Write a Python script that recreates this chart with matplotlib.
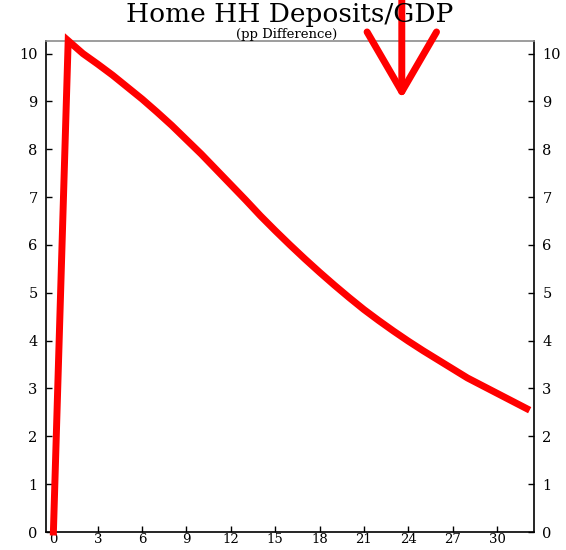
import matplotlib
matplotlib.use("Agg")
import matplotlib.pyplot as plt

# Quarters after the shock and the response of home household deposits (% of GDP)
quarters = list(range(33))
deposits_gdp = [0.0, 10.27, 10.0, 9.78, 9.55, 9.3, 9.05, 8.78, 8.5, 8.2,
                7.9, 7.58, 7.26, 6.94, 6.61, 6.3, 6.0, 5.71, 5.43, 5.16,
                4.9, 4.65, 4.42, 4.2, 3.99, 3.79, 3.6, 3.41, 3.22, 3.06,
                2.9, 2.74, 2.58]
x_ticks = [0, 3, 6, 9, 12, 15, 18, 21, 24, 27, 30]
y_ticks = [0, 1, 2, 3, 4, 5, 6, 7, 8, 9, 10]

plt.rcParams['font.family'] = ['DejaVu Serif']

fig = plt.figure(figsize=(5.66, 5.5), dpi=100)
ax = fig.add_axes([46 / 566, 1 - 532 / 550, 488 / 566, (532 - 40.7) / 550])

ax.plot(quarters, deposits_gdp, color='#ff0000', lw=5, solid_joinstyle='miter',
        clip_on=False, zorder=3)

ax.set_xlim(-0.5, 32.5)
ax.set_ylim(0, max(deposits_gdp))
ax.set_xticks(x_ticks)
ax.set_yticks(y_ticks)
ax.tick_params(axis='both', direction='in', length=4, width=1, labelsize=10.5,
               colors='black')
ax.tick_params(axis='y', left=True, right=True, labelleft=True, labelright=True, pad=6)
ax.tick_params(axis='x', top=False, pad=1, labelsize=9.5)
for side in ['left', 'right', 'bottom']:
    ax.spines[side].set_color('black')
    ax.spines[side].set_linewidth(1.2)
ax.spines['top'].set_color('#8c8c8c')
ax.spines['top'].set_linewidth(1.2)

fig.text(289.5 / 566, 1 - 22 / 550, 'Home HH Deposits/GDP', ha='center', va='baseline',
         fontsize=19)
fig.text(286.5 / 566, 1 - 38 / 550, '(pp Difference)', ha='center', va='baseline',
         fontsize=9.5)

# Downward arrow highlighting the title
ax.annotate('', xy=(23.56, 9.06), xytext=(23.56, 11.3),
            arrowprops=dict(arrowstyle='->,head_length=4.3,head_width=2.5',
                            color='#ff0000', lw=5, shrinkA=0, shrinkB=0),
            annotation_clip=False, zorder=4)

fig.savefig('out.png', dpi=100)
